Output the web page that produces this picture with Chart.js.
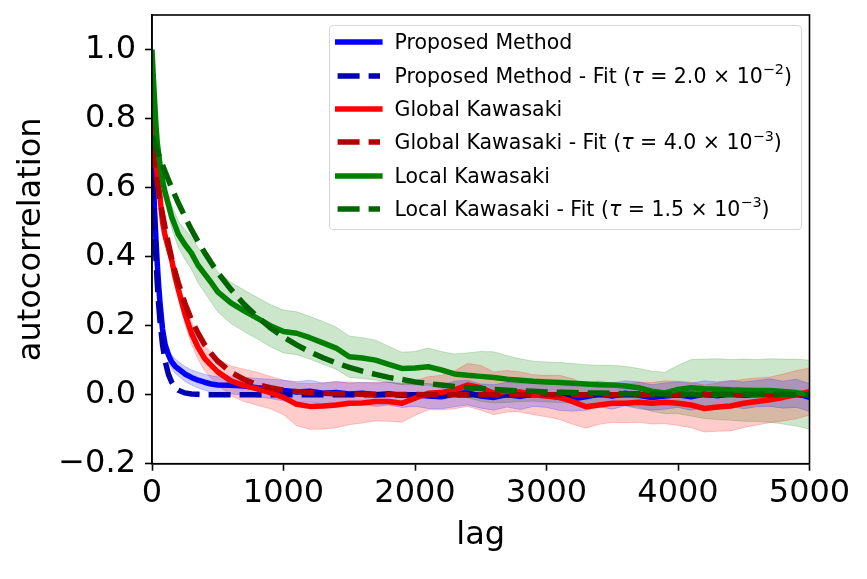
<!DOCTYPE html>
<html><head><meta charset="utf-8">
<script src="https://cdn.jsdelivr.net/npm/chart.js@4.4.1/dist/chart.umd.min.js"></script>
<style>
html,body{margin:0;padding:0;background:#fff;}
#wrap{position:relative;width:867px;height:579px;overflow:hidden;background:#fff;}
canvas{position:absolute;left:0;top:0;}
#legend{position:absolute;left:329px;top:25px;width:473px;height:205px;box-sizing:border-box;border:1px solid #d6d6d6;border-radius:4px;background:rgba(255,255,255,0.8);font-family:'DejaVu Sans';font-size:20.5px;color:#000;}
.row{position:absolute;left:0;height:30px;line-height:30px;white-space:nowrap;width:100%;}
.row svg{position:absolute;left:4.5px;top:11px;}
.row span{position:absolute;left:64.5px;top:0;}
.row sup{font-size:70%;line-height:0;vertical-align:baseline;position:relative;top:-0.62em;}
.row i{font-style:oblique;}
</style></head>
<body><div id="wrap"><canvas id="c" width="867" height="579"></canvas><div id="legend"></div></div>
<script>
// ---- data ----
const lag = [0,10,20,30,40,50,60,80,100,125,150,175,200,250,300,350,400,450,500,600,700,800,900,
  1000,1100,1200,1300,1400,1500,1600,1700,1800,1900,
  2000,2100,2200,2300,2400,2500,2600,2700,2800,2900,
  3000,3100,3200,3300,3400,3500,3600,3700,3800,3900,
  4000,4100,4200,4300,4400,4500,4600,4700,4800,4900,5000];

const proposed = [0.72,0.62,0.53,0.45,0.38,0.32,0.27,0.19,0.145,0.115,0.095,0.083,0.075,0.06,0.05,0.042,0.036,0.031,0.028,0.027,0.025,0.02,0.017,
  0.012,0.008,0.01,0.004,0.006,0.002,0.004,0.0,0.003,-0.002,
  0.0,-0.004,-0.006,0.002,0.006,-0.004,-0.008,0.0,-0.005,0.002,
  0.0,-0.008,-0.012,-0.006,0.002,-0.004,0.004,-0.002,-0.008,-0.004,
  0.0,-0.006,0.002,-0.003,0.004,-0.002,0.003,0.006,0.0,0.004,
  -0.008];
const proposedStd = [0,0.006,0.01,0.012,0.014,0.015,0.016,0.018,0.019,0.02,0.02,0.021,0.021,0.022,0.022,0.023,0.023,0.024,0.024,0.025,0.026,0.027,0.028,
  0.03,0.03,0.032,0.03,0.033,0.031,0.032,0.034,0.033,0.035,
  0.034,0.036,0.035,0.037,0.036,0.035,0.037,0.036,0.038,0.036,
  0.037,0.038,0.036,0.039,0.037,0.038,0.036,0.039,0.037,0.038,
  0.037,0.039,0.038,0.04,0.037,0.039,0.038,0.04,0.039,0.041,
  0.04];
const proposedFit = [0.72,0.589,0.483,0.395,0.323,0.265,0.217,0.145,0.097,0.059,0.036,0.022,0.013,0.005,0.002,0.001,0,0,0,0,0,0,0,
  0,0,0,0,0,0,0,0,0,0,
  0,0,0,0,0,0,0,0,0,0,
  0,0,0,0,0,0,0,0,0,0,
  0,0,0,0,0,0,0,0,0,0,
  0];

const globalK = [0.80,0.75,0.71,0.67,0.635,0.605,0.575,0.50,0.46,0.425,0.39,0.342,0.305,0.235,0.178,0.137,0.105,0.085,0.066,0.04,0.027,0.017,0.006,
  -0.008,-0.028,-0.034,-0.033,-0.03,-0.025,-0.024,-0.02,-0.02,-0.025,
  -0.01,0.004,0.006,0.014,0.028,0.02,0.004,0.01,0.008,0.0,
  -0.004,-0.008,-0.02,-0.035,-0.03,-0.025,-0.025,-0.022,-0.025,-0.022,
  -0.025,-0.03,-0.04,-0.036,-0.033,-0.025,-0.02,-0.015,-0.008,0.0,
  0.009];
const globalStd = [0,0.005,0.008,0.01,0.012,0.014,0.015,0.017,0.02,0.022,0.024,0.026,0.028,0.03,0.032,0.034,0.036,0.038,0.039,0.043,0.047,0.048,0.047,
  0.05,0.062,0.066,0.067,0.066,0.062,0.058,0.056,0.057,0.055,
  0.05,0.048,0.05,0.055,0.062,0.065,0.062,0.06,0.058,0.058,
  0.06,0.064,0.066,0.062,0.056,0.055,0.056,0.058,0.06,0.062,
  0.064,0.066,0.068,0.07,0.072,0.07,0.068,0.066,0.068,0.07,
  0.068];
const globalFit = [0.72,0.692,0.664,0.639,0.614,0.589,0.566,0.523,0.483,0.437,0.395,0.358,0.324,0.265,0.217,0.178,0.145,0.119,0.097,0.065,0.044,0.029,0.02,
  0.013,0.009,0.006,0.004,0.003,0.002,0.001,0.001,0.0005,0.0003,
  0.0002,0,0,0,0,0,0,0,0,0,
  0,0,0,0,0,0,0,0,0,0,
  0,0,0,0,0,0,0,0,0,0,
  0];

const localK = [1.0,0.92,0.85,0.78,0.73,0.70,0.67,0.62,0.585,0.55,0.515,0.49,0.465,0.435,0.41,0.375,0.35,0.325,0.298,0.266,0.243,0.222,0.2,
  0.183,0.178,0.165,0.15,0.135,0.11,0.106,0.1,0.088,0.076,
  0.077,0.081,0.072,0.06,0.056,0.053,0.05,0.045,0.042,0.039,
  0.037,0.035,0.033,0.031,0.029,0.028,0.025,0.02,0.01,0.005,
  0.015,0.02,0.017,0.016,0.014,0.013,0.012,0.012,0.009,0.006,
  0.0];
const localStd = [0,0.004,0.008,0.012,0.015,0.018,0.02,0.024,0.027,0.03,0.033,0.036,0.038,0.043,0.047,0.051,0.054,0.057,0.058,0.06,0.06,0.06,0.061,
  0.062,0.062,0.062,0.062,0.061,0.06,0.059,0.058,0.052,0.047,
  0.048,0.054,0.053,0.058,0.065,0.072,0.074,0.068,0.062,0.058,
  0.058,0.058,0.057,0.056,0.056,0.057,0.057,0.056,0.058,0.06,
  0.07,0.082,0.086,0.088,0.088,0.09,0.09,0.092,0.094,0.097,
  0.1];
const localFit = [0.75,0.739,0.728,0.717,0.706,0.696,0.686,0.665,0.646,0.622,0.599,0.577,0.556,0.516,0.478,0.444,0.412,0.382,0.354,0.305,0.262,0.226,0.194,
  0.167,0.144,0.124,0.107,0.092,0.079,0.068,0.059,0.05,0.044,
  0.037,0.032,0.028,0.024,0.02,0.018,0.015,0.013,0.011,0.01,
  0.008,0.007,0.006,0.005,0.005,0.004,0.003,0.003,0.003,0.002,
  0.002,0.002,0.001,0.001,0.001,0.001,0.001,0.001,0.001,0.0,
  0.0];

const xTicks = [0,1000,2000,3000,4000,5000];
const yTicks = [-0.2,0.0,0.2,0.4,0.6,0.8,1.0];
const seriesNames = ['Proposed Method','Global Kawasaki','Local Kawasaki'];
const fitTau = [['2.0','\u22122'],['4.0','\u22123'],['1.5','\u22123']];

// ---- build datasets ----
const FONT = 'DejaVu Sans';
const pts = ys => lag.map((x,i)=>({x:x, y:ys[i]}));
const offset = (ys, sd, s) => ys.map((v,i)=> v + s*sd[i]);

const groups = [
  {name:seriesNames[0], y:proposed, sd:proposedStd, fit:proposedFit, tau:fitTau[0], c:'#0000ff', cf:'#0000b4', band:'rgba(0,0,255,0.2)'},
  {name:seriesNames[1], y:globalK,  sd:globalStd,  fit:globalFit,  tau:fitTau[1], c:'#ff0000', cf:'#b40000', band:'rgba(255,0,0,0.2)'},
  {name:seriesNames[2], y:localK,   sd:localStd,   fit:localFit,   tau:fitTau[2], c:'#008000', cf:'#006400', band:'rgba(0,128,0,0.2)'}
];

const datasets = [];
groups.forEach(g=>{
  datasets.push({label:g.name+' lower', data:pts(offset(g.y,g.sd,-1)), borderColor:g.band, borderWidth:1, fill:false, pointRadius:0, order:20});
  datasets.push({label:g.name+' upper', data:pts(offset(g.y,g.sd,1)), borderColor:g.band, backgroundColor:g.band, borderWidth:1, fill:'-1', pointRadius:0, order:20});
});
let ord = 10;
groups.forEach(g=>{
  datasets.push({label:g.name, data:pts(g.y), borderColor:g.c, borderWidth:5.5, borderDash:[], borderJoinStyle:'round', fill:false, pointRadius:0, order:ord--, inLegend:true});
  datasets.push({label:g.name+' - Fit', tau:g.tau, data:pts(g.fit), borderColor:g.cf, borderWidth:5.5, borderDash:[22,9], fill:false, pointRadius:0, order:ord--, inLegend:true});
});

// ---- html legend (inside the axes, top right) ----
const htmlLegend = {
  id:'htmlLegend',
  afterUpdate(chart){
    const box = document.getElementById('legend');
    box.innerHTML = '';
    const NS = 'http://www.w3.org/2000/svg';
    chart.data.datasets.filter(d=>d.inLegend).forEach((d,i)=>{
      const row = document.createElement('div');
      row.className = 'row';
      row.style.top = (1.4 + i*33.35) + 'px';
      const svg = document.createElementNS(NS,'svg');
      svg.setAttribute('width','52'); svg.setAttribute('height','8');
      const ln = document.createElementNS(NS,'line');
      const dashed = d.borderDash && d.borderDash.length;
      ln.setAttribute('x1', dashed ? '2.6' : '0'); ln.setAttribute('x2', dashed ? '45' : '47.6');
      ln.setAttribute('y1','4'); ln.setAttribute('y2','4');
      ln.setAttribute('stroke', d.borderColor);
      ln.setAttribute('stroke-width', String(d.borderWidth));
      if (dashed) ln.setAttribute('stroke-dasharray', d.borderDash.join(' '));
      svg.appendChild(ln);
      row.appendChild(svg);
      const sp = document.createElement('span');
      sp.appendChild(document.createTextNode(d.label));
      if (d.tau){
        sp.appendChild(document.createTextNode(' ('));
        const it = document.createElement('i'); it.textContent = '\u03c4'; sp.appendChild(it);
        sp.appendChild(document.createTextNode(' = ' + d.tau[0] + ' \u00d7 10'));
        const su = document.createElement('sup'); su.textContent = d.tau[1]; sp.appendChild(su);
        sp.appendChild(document.createTextNode(')'));
      }
      row.appendChild(sp);
      box.appendChild(row);
    });
  }
};

// ---- axes frame (top & right spines) ----
const frame = {
  id:'frame',
  afterDraw(chart){
    const {ctx, chartArea:a} = chart;
    ctx.save();
    ctx.strokeStyle = '#000'; ctx.lineWidth = 1.6;
    ctx.strokeRect(a.left, a.top, a.right-a.left, a.bottom-a.top);
    ctx.restore();
  }
};

const noPad = s => { s.paddingTop = 0; s.paddingBottom = 0; s.paddingLeft = 0; s.paddingRight = 0; };

new Chart(document.getElementById('c'), {
  type:'line',
  data:{datasets:datasets},
  plugins:[htmlLegend, frame],
  options:{
    responsive:false, animation:false, devicePixelRatio:1,
    layout:{padding:{left:0, top:15, right:57.5, bottom:0}},
    parsing:true,
    plugins:{legend:{display:false}, tooltip:{enabled:false}, filler:{propagate:false, drawTime:'beforeDatasetsDraw'}},
    elements:{line:{tension:0}, point:{radius:0}},
    scales:{
      x:{type:'linear', min:0, max:5000,
        afterFit:s=>{ s.height = 115.3; noPad(s); },
        afterBuildTicks:s=>{ s.ticks = xTicks.map(v=>({value:v})); },
        ticks:{font:{family:FONT, size:32}, color:'#000', padding:3.5, maxRotation:0, autoSkip:false, callback:v=>String(v)},
        grid:{display:true, drawOnChartArea:false, drawTicks:true, tickLength:7, tickWidth:1.6, tickColor:'#000'},
        border:{display:true, color:'#000', width:1.6},
        title:{display:true, text:'lag', color:'#000', font:{family:FONT, size:32}, padding:{top:0, bottom:23.8}}
      },
      y:{type:'linear', min:-0.2, max:1.1,
        afterFit:s=>{ s.width = 152; noPad(s); },
        afterBuildTicks:s=>{ s.ticks = yTicks.map(v=>({value:v})); },
        ticks:{font:{family:FONT, size:32}, color:'#000', padding:9, autoSkip:false, callback:v=>(v<0?'\u2212':'')+Math.abs(v).toFixed(1)},
        grid:{display:true, drawOnChartArea:false, drawTicks:true, tickLength:7, tickWidth:1.6, tickColor:'#000'},
        border:{display:true, color:'#000', width:1.6},
        title:{display:true, text:'autocorrelation', color:'#000', font:{family:FONT, size:32}, padding:{top:12.8, bottom:0}}
      }
    }
  }
});
</script>
</body></html>
